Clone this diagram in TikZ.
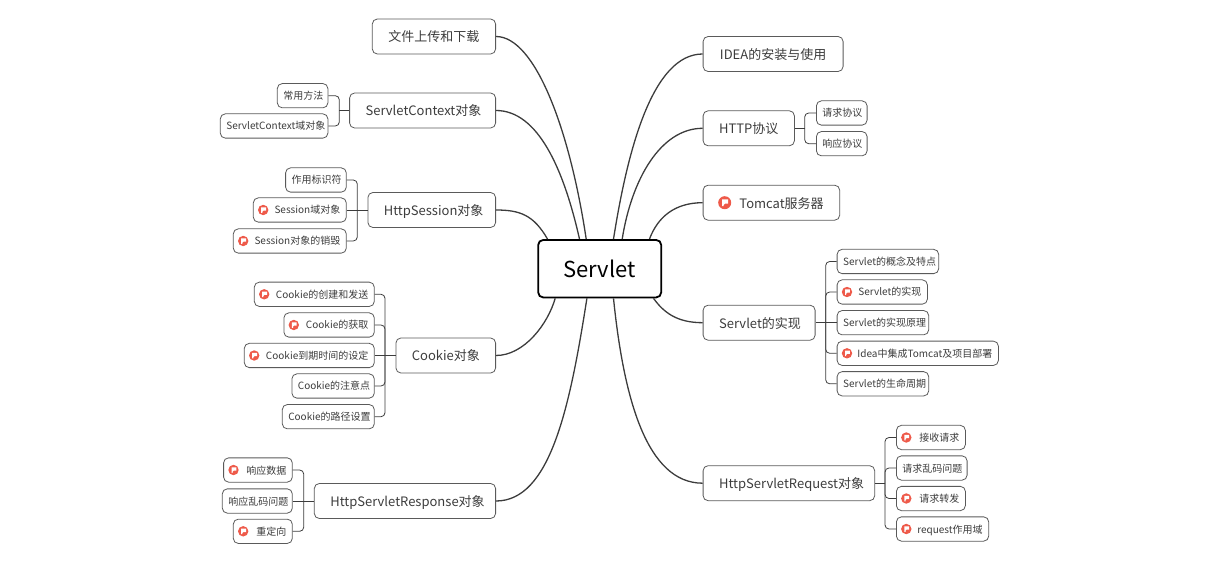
\documentclass[tikz,border=0pt]{standalone}
\usepackage{fontspec}
\setmainfont{Noto Sans CJK SC}
\usetikzlibrary{calc, positioning}
\definecolor{inkgrey}{HTML}{3C3C3C}
\definecolor{boxgrey}{HTML}{5A5A5A}
\definecolor{flagred}{HTML}{EE5A4A}
\tikzstyle{root} = [rectangle, rounded corners=5pt, line width=1.8pt, draw=black, fill=white, minimum width=123pt, minimum height=57.5pt, font=\fontsize{22}{26}\selectfont]
\tikzstyle{topic} = [rectangle, rounded corners=5pt, line width=0.8pt, draw=boxgrey, text=inkgrey, inner xsep=16pt, minimum height=35pt, text height=12pt, text depth=1pt, align=center, font=\fontsize{13}{15}\selectfont]
\tikzstyle{leaf} = [rectangle, rounded corners=5pt, line width=0.8pt, draw=boxgrey, text=inkgrey, inner xsep=6pt, minimum height=24.3pt, text height=9pt, text depth=1pt, align=center, font=\fontsize{10}{12}\selectfont]
\tikzstyle{marked} = [align=right]
\tikzstyle{trunk} = [line width=1.3pt, draw=inkgrey]
\tikzstyle{branch} = [line width=0.8pt, draw=inkgrey, rounded corners=4pt]
\tikzset{
	flagicon/.pic={
		\fill [flagred] (0,0) circle (5.2);
		\fill [white] (-2,-2.6) -- (2.8,-2.6) -- (2.8,0.7) -- (0.2,0.7) -- (-0.8,1.7) -- (-0.8,2.8) -- (-2,2.8) -- cycle;
	}
}

\begin{document}
\begin{tikzpicture}[x=1pt, y=-1pt]
	\useasboundingbox (0,0) rectangle (1211,585);
	\node (Servlet) [root] at (599.7,268.7) {Servlet};

	\node (Upload) [topic, anchor=east, text width=91.3pt] at (496,36.5) {文件上传和下载};
	\node (Context) [topic, anchor=east, text width=114pt] at (496,110.5) {ServletContext对象};
	\node (Session) [topic, anchor=east, text width=95.7pt] at (496,210) {HttpSession对象};
	\node (Cookie) [topic, anchor=east, text width=67.7pt] at (496,355.5) {Cookie对象};
	\node (Response) [topic, anchor=east, text width=149.3pt] at (496,501) {HttpServletResponse对象};

	\node (ContextMethods) [leaf, anchor=east, text width=38.6pt] at (328.3,95.7) {常用方法};
	\node (ContextDomain) [leaf, anchor=east, text width=95.6pt] at (328.3,126) {ServletContext域对象};
	\node (SessionId) [leaf, anchor=east, text width=48.7pt] at (346.7,180) {作用标识符};
	\node (SessionDomain) [leaf, marked, anchor=east, text width=81pt] at (346.7,210) {Session域对象};
	\node (SessionDestroy) [leaf, marked, anchor=east, text width=101pt] at (346.7,241) {Session对象的销毁};
	\node (CookieCreate) [leaf, marked, anchor=east, text width=108pt] at (374.7,294.3) {Cookie的创建和发送};
	\node (CookieGet) [leaf, marked, anchor=east, text width=78.4pt] at (374.7,325) {Cookie的获取};
	\node (CookieExpire) [leaf, marked, anchor=east, text width=118pt] at (374.7,355.5) {Cookie到期时间的设定};
	\node (CookieNotes) [leaf, anchor=east, text width=70.4pt] at (374.7,386) {Cookie的注意点};
	\node (CookiePath) [leaf, anchor=east, text width=80pt] at (374.7,416.7) {Cookie的路径设置};
	\node (ResponseData) [leaf, marked, anchor=east, text width=56.7pt] at (292.7,470) {响应数据};
	\node (ResponseCoding) [leaf, anchor=east, text width=58pt] at (292.7,501) {响应乱码问题};
	\node (ResponseRedirect) [leaf, marked, anchor=east, text width=47pt] at (292.7,531.3) {重定向};

	\node (Idea) [topic, anchor=west, text width=108pt] at (702.7,54) {IDEA的安装与使用};
	\node (Http) [topic, anchor=west, text width=59.3pt] at (702.7,128.3) {HTTP协议};
	\node (Tomcat) [topic, marked, anchor=west, text width=104.6pt] at (702.7,202.7) {Tomcat服务器};
	\node (Impl) [topic, anchor=west, text width=80pt] at (702.7,322.7) {Servlet的实现};
	\node (Request) [topic, anchor=west, text width=139.6pt] at (702.7,483.2) {HttpServletRequest对象};

	\node (HttpAsk) [leaf, anchor=west, text width=38.7pt] at (816,113) {请求协议};
	\node (HttpAnswer) [leaf, anchor=west, text width=38.7pt] at (816,143.7) {响应协议};
	\node (ImplConcept) [leaf, anchor=west, text width=89.6pt] at (836.7,261.5) {Servlet的概念及特点};
	\node (ImplServlet) [leaf, marked, anchor=west, text width=78.3pt] at (836.7,292) {Servlet的实现};
	\node (ImplPrinciple) [leaf, anchor=west, text width=79.6pt] at (836.7,322.7) {Servlet的实现原理};
	\node (ImplDeploy) [leaf, marked, anchor=west, text width=149.3pt] at (836.7,353.3) {Idea中集成Tomcat及项目部署};
	\node (ImplLife) [leaf, anchor=west, text width=79.6pt] at (836.7,383.8) {Servlet的生命周期};
	\node (RequestGet) [leaf, marked, anchor=west, text width=57pt] at (896,437.5) {接收请求};
	\node (RequestCoding) [leaf, anchor=west, text width=58.7pt] at (896,468) {请求乱码问题};
	\node (RequestForward) [leaf, marked, anchor=west, text width=57pt] at (896,498.5) {请求转发};
	\node (RequestScope) [leaf, marked, anchor=west, text width=80.3pt] at (896,529) {request作用域};

	\coordinate (ContextSpine) at (339.3,110.5);
	\coordinate (SessionSpine) at (357.3,210);
	\coordinate (CookieSpine) at (385,355.5);
	\coordinate (ResponseSpine) at (303.7,501);
	\coordinate (HttpSpine) at (804.7,128.3);
	\coordinate (ImplSpine) at (825.7,322.7);
	\coordinate (RequestSpine) at (885,483.2);

	\draw [trunk] (Upload.east) .. controls +(39,0) and ($(Servlet.north)+(-30,-110)$) .. ($(Servlet.north)+(-13.5,0)$);
	\draw [trunk] (Context.east) .. controls +(42,0) and ($(Servlet.north)+(-36,-70)$) .. ($(Servlet.north)+(-20.2,0)$);
	\draw [trunk] (Session.east) .. controls +(24,0) and ($(Servlet.north)+(-66,-24)$) .. ($(Servlet.north)+(-52.2,0)$);
	\draw [trunk] (Cookie.east) .. controls +(28,0) and ($(Servlet.south)+(-52,26)$) .. ($(Servlet.south)+(-44.5,0)$);
	\draw [trunk] (Response.east) .. controls +(54,0) and ($(Servlet.south)+(-30,110)$) .. ($(Servlet.south)+(-12.8,0)$);
	\draw [trunk] (Idea.west) .. controls +(-50,0) and ($(Servlet.north)+(28,-90)$) .. ($(Servlet.north)+(13.8,0)$);
	\draw [trunk] (Http.west) .. controls +(-42,0) and ($(Servlet.north)+(32,-60)$) .. ($(Servlet.north)+(22.5,0)$);
	\draw [trunk] (Tomcat.west) .. controls +(-28,0) and ($(Servlet.north)+(58,-22)$) .. ($(Servlet.north)+(49.8,0)$);
	\draw [trunk] (Impl.west) .. controls +(-26,0) and ($(Servlet.south)+(64,14)$) .. ($(Servlet.south)+(53.8,0)$);
	\draw [trunk] (Request.west) .. controls +(-56,0) and ($(Servlet.south)+(24,100)$) .. ($(Servlet.south)+(13.8,0)$);

	\draw [branch] (ContextMethods.east) -| (ContextSpine);
	\draw [branch] (ContextDomain.east) -| (ContextSpine);
	\draw [branch] (ContextSpine) -- (Context.west);
	\draw [branch] (SessionId.east) -| (SessionSpine);
	\draw [branch] (SessionDestroy.east) -| (SessionSpine);
	\draw [branch] (SessionDomain.east) -- (Session.west);
	\draw [branch] (CookieCreate.east) -| (CookieSpine);
	\draw [branch] (CookieGet.east) -| (CookieSpine);
	\draw [branch] (CookieNotes.east) -| (CookieSpine);
	\draw [branch] (CookiePath.east) -| (CookieSpine);
	\draw [branch] (CookieExpire.east) -- (Cookie.west);
	\draw [branch] (ResponseData.east) -| (ResponseSpine);
	\draw [branch] (ResponseRedirect.east) -| (ResponseSpine);
	\draw [branch] (ResponseCoding.east) -- (Response.west);
	\draw [branch] (HttpAsk.west) -| (HttpSpine);
	\draw [branch] (HttpAnswer.west) -| (HttpSpine);
	\draw [branch] (HttpSpine) -- (Http.east);
	\draw [branch] (ImplConcept.west) -| (ImplSpine);
	\draw [branch] (ImplServlet.west) -| (ImplSpine);
	\draw [branch] (ImplDeploy.west) -| (ImplSpine);
	\draw [branch] (ImplLife.west) -| (ImplSpine);
	\draw [branch] (ImplPrinciple.west) -- (Impl.east);
	\draw [branch] (RequestGet.west) -| (RequestSpine);
	\draw [branch] (RequestCoding.west) -| (RequestSpine);
	\draw [branch] (RequestForward.west) -| (RequestSpine);
	\draw [branch] (RequestScope.west) -| (RequestSpine);
	\draw [branch] (RequestSpine) -- (Request.east);

	\pic at ($(SessionDomain.west)+(10.3,0)$) {flagicon};
	\pic at ($(SessionDestroy.west)+(10.3,0)$) {flagicon};
	\pic at ($(CookieCreate.west)+(10.3,0)$) {flagicon};
	\pic at ($(CookieGet.west)+(10.3,0)$) {flagicon};
	\pic at ($(CookieExpire.west)+(10.3,0)$) {flagicon};
	\pic at ($(ResponseData.west)+(10.3,0)$) {flagicon};
	\pic at ($(ResponseRedirect.west)+(10.3,0)$) {flagicon};
	\pic [scale=1.25] at ($(Tomcat.west)+(22,0)$) {flagicon};
	\pic at ($(ImplServlet.west)+(10.3,0)$) {flagicon};
	\pic at ($(ImplDeploy.west)+(10.3,0)$) {flagicon};
	\pic at ($(RequestGet.west)+(10.3,0)$) {flagicon};
	\pic at ($(RequestForward.west)+(10.3,0)$) {flagicon};
	\pic at ($(RequestScope.west)+(10.3,0)$) {flagicon};
\end{tikzpicture}
\end{document}
